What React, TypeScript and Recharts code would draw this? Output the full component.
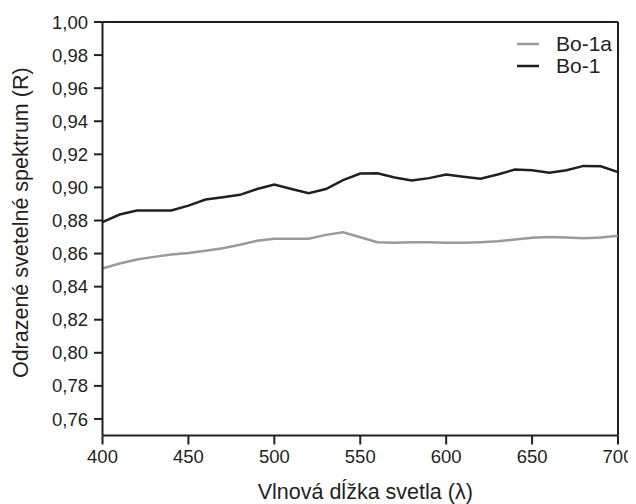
import React from 'react';
import { LineChart, Line, XAxis, YAxis, ReferenceLine, Legend } from 'recharts';

const wavelengths = [400, 410, 420, 430, 440, 450, 460, 470, 480, 490, 500, 510, 520, 530, 540, 550, 560, 570, 580, 590, 600, 610, 620, 630, 640, 650, 660, 670, 680, 690, 700];
const bo1a = [0.851, 0.854, 0.8564, 0.858, 0.8594, 0.8604, 0.8617, 0.8632, 0.8653, 0.8677, 0.869, 0.869, 0.869, 0.8713, 0.8729, 0.8699, 0.8669, 0.8665, 0.8669, 0.8669, 0.8665, 0.8665, 0.8669, 0.8675, 0.8685, 0.8695, 0.870, 0.8697, 0.8693, 0.8697, 0.8707];
const bo1 = [0.879, 0.8836, 0.886, 0.886, 0.886, 0.889, 0.8927, 0.894, 0.8955, 0.899, 0.9017, 0.899, 0.8965, 0.899, 0.9044, 0.9084, 0.9086, 0.906, 0.9042, 0.9056, 0.9078, 0.9064, 0.9052, 0.9078, 0.9108, 0.9104, 0.9088, 0.9104, 0.913, 0.9128, 0.9093];
const xTicks = [400, 450, 500, 550, 600, 650, 700];
const yTicks = [0.76, 0.78, 0.8, 0.82, 0.84, 0.86, 0.88, 0.9, 0.92, 0.94, 0.96, 0.98, 1.0];
const seriesNames = ['Bo-1a', 'Bo-1'];
const xTitle = 'Vlnová dĺžka svetla (λ)';
const yTitle = 'Odrazené svetelné spektrum (R)';

const data = wavelengths.map((w, i) => ({ w, bo1a: bo1a[i], bo1: bo1[i] }));

const FONT = '"Liberation Sans", Arial, Helvetica, sans-serif';
const INK = '#231f20';
const GRAY = '#9a9a9a';

const LegendContent = () => {
  const items = [
    { name: seriesNames[0], color: GRAY },
    { name: seriesNames[1], color: INK },
  ];
  return (
    <div style={{ fontFamily: FONT, fontSize: 21, color: INK, lineHeight: '22px' }}>
      {items.map((it) => (
        <div key={it.name} style={{ display: 'flex', alignItems: 'center', height: 22 }}>
          <svg width={22} height={6} style={{ marginRight: 17 }}>
            <line x1={0} y1={3} x2={22} y2={3} stroke={it.color} strokeWidth={2.5} />
          </svg>
          <span>{it.name}</span>
        </div>
      ))}
    </div>
  );
};

const XTitle = (props: any) => {
  const vb = props.viewBox || {};
  const cx = vb.x + vb.width / 2 + 5;
  return (
    <text x={cx} y={491} textAnchor="middle" fontFamily={FONT} fontSize={21.5} fill={INK}>
      {xTitle}
    </text>
  );
};

const YTitle = (props: any) => {
  const vb = props.viewBox || {};
  const cy = vb.y + vb.height / 2 - 6;
  const cx = 13;
  return (
    <text
      x={cx}
      y={cy}
      transform={`rotate(-90 ${cx} ${cy})`}
      textAnchor="middle"
      dominantBaseline="central"
      fontFamily={FONT}
      fontSize={21.5}
      fill={INK}
    >
      {yTitle}
    </text>
  );
};

export default function App() {
  return (
    <LineChart width={628} height={496} data={data} margin={{ top: 14, right: 18, bottom: 0, left: 0 }}>
      <XAxis
        dataKey="w"
        type="number"
        domain={[400, 700]}
        ticks={xTicks}
        allowDataOverflow
        height={68.5}
        tickSize={9}
        tickMargin={5}
        stroke={INK}
        strokeWidth={2}
        tick={{ fill: INK, fontSize: 18.5, fontFamily: FONT }}
        label={<XTitle />}
      />
      <YAxis
        type="number"
        domain={[0.75, 1.0]}
        ticks={yTicks}
        allowDataOverflow
        width={94.5}
        tickSize={8.5}
        tickMargin={6}
        stroke={INK}
        strokeWidth={2}
        tick={{ fill: INK, fontSize: 18.5, fontFamily: FONT }}
        tickFormatter={(v: number) => v.toFixed(2).replace('.', ',')}
        label={<YTitle />}
      />
      <ReferenceLine y={1.0} stroke={INK} strokeWidth={2} ifOverflow="visible" />
      <ReferenceLine x={700} stroke={INK} strokeWidth={2} ifOverflow="visible" />
      <Legend
        layout="vertical"
        align="center"
        verticalAlign="middle"
        content={<LegendContent />}
        wrapperStyle={{ position: 'absolute', left: 509, top: 25, width: 110, height: 44 }}
      />
      <Line type="linear" dataKey="bo1a" name={seriesNames[0]} stroke={GRAY} strokeWidth={2.5} dot={false} isAnimationActive={false} />
      <Line type="linear" dataKey="bo1" name={seriesNames[1]} stroke={INK} strokeWidth={2.5} dot={false} isAnimationActive={false} />
    </LineChart>
  );
}
